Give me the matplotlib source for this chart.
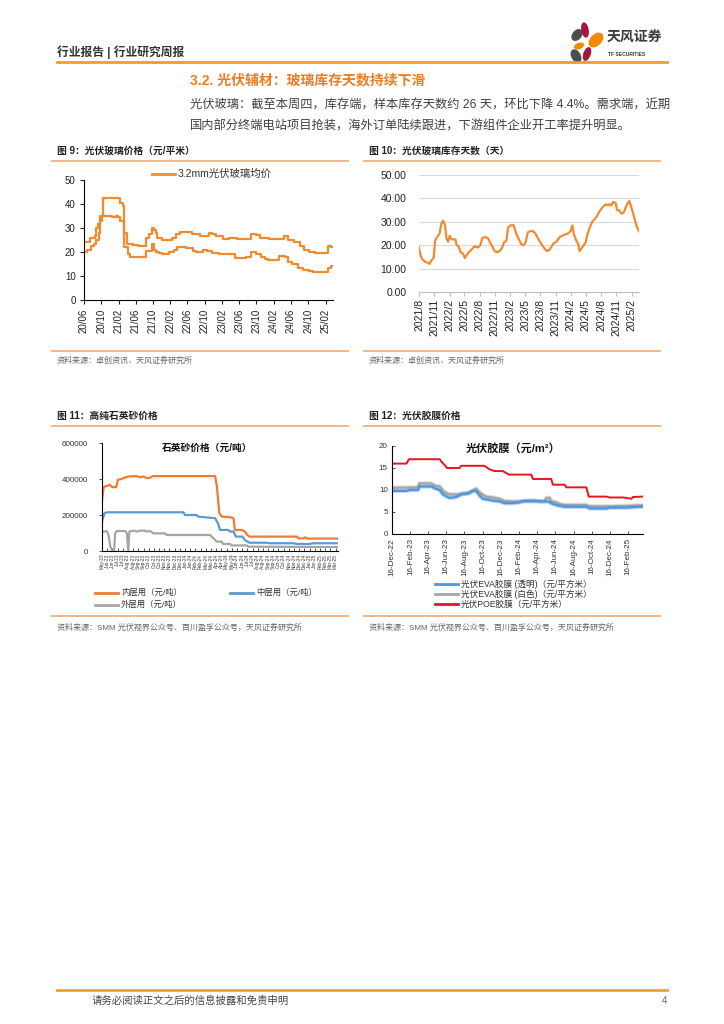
import matplotlib
matplotlib.use('Agg')
import matplotlib.pyplot as plt
import matplotlib.patheffects as pe
from matplotlib.lines import Line2D
from matplotlib.patches import Ellipse
import pandas as pd

plt.rcParams['font.family'] = ['Liberation Sans', 'Noto Sans CJK SC']

# ---- 图9 光伏玻璃价格 (元/平米) ----
glass_hi_dates = ['2020-06-01', '2020-07-10', '2020-08-15', '2020-08-22', '2020-09-05', '2020-09-25', '2020-10-15',
                  '2021-02-10', '2021-02-28', '2021-03-10', '2021-04-01', '2021-05-10', '2021-06-20', '2021-08-15',
                  '2021-09-01', '2021-09-25', '2021-10-10', '2021-10-20', '2021-11-01', '2021-12-01', '2022-02-10',
                  '2022-03-10', '2022-04-10', '2022-07-01', '2022-09-01', '2022-11-01', '2022-11-20', '2022-12-20',
                  '2023-02-10', '2023-03-20', '2023-05-20', '2023-08-25', '2023-10-01', '2023-10-25', '2024-01-01',
                  '2024-04-10', '2024-05-10', '2024-06-20', '2024-08-01', '2024-09-01', '2024-10-10', '2024-11-15',
                  '2025-02-20', '2025-03-10', '2025-03-20']
glass_hi = [24.0, 26.0, 26.5, 30.0, 31.5, 35.0, 42.5, 40.5, 39.0, 28.0, 23.5, 23.0, 22.5, 26.0, 27.5, 30.0, 29.0,
            28.0, 26.0, 25.0, 26.0, 27.5, 28.5, 27.5, 26.5, 28.0, 27.5, 26.5, 25.5, 26.0, 25.5, 27.5, 27.0, 26.0,
            25.5, 26.5, 25.0, 24.0, 22.5, 21.0, 20.0, 19.5, 22.5, 22.0, 22.0]
glass_lo_dates = ['2020-06-01', '2020-06-25', '2020-07-20', '2020-08-10', '2020-08-25', '2020-09-15', '2020-09-25',
                  '2020-10-05', '2020-12-15', '2021-01-10', '2021-01-25', '2021-02-10', '2021-03-08', '2021-04-05',
                  '2021-04-25', '2021-08-15', '2021-09-25', '2021-10-10', '2021-10-25', '2021-11-15', '2021-12-01',
                  '2022-01-20', '2022-02-25', '2022-03-20', '2022-05-20', '2022-07-10', '2022-08-01', '2022-09-20',
                  '2022-10-20', '2022-11-20', '2023-01-10', '2023-05-01', '2023-07-20', '2023-08-25', '2023-09-25',
                  '2023-11-01', '2023-12-01', '2023-12-20', '2024-03-10', '2024-04-20', '2024-05-10', '2024-06-10',
                  '2024-07-20', '2024-08-25', '2024-10-10', '2024-11-05', '2025-02-20', '2025-03-10', '2025-03-20']
glass_lo = [20.0, 21.0, 22.5, 23.5, 25.0, 28.0, 33.0, 35.0, 34.5, 35.0, 34.5, 33.0, 22.0, 19.0, 18.0, 20.5, 23.5,
            21.0, 20.0, 19.5, 19.0, 20.0, 21.0, 22.0, 21.5, 20.5, 20.0, 21.0, 20.5, 19.5, 19.0, 17.5, 18.0, 20.0,
            19.0, 18.0, 17.0, 16.5, 18.5, 18.0, 16.0, 15.0, 13.5, 12.5, 12.0, 11.8, 13.5, 14.0, 14.0]

# ---- 图10 光伏玻璃库存天数 (天) ----
inv_dates = ['2021-08-01', '2021-08-09', '2021-08-21', '2021-09-05', '2021-09-25', '2021-10-04', '2021-10-14',
             '2021-10-28', '2021-11-06', '2021-11-18', '2021-12-03', '2021-12-13', '2021-12-23', '2022-01-05',
             '2022-01-13', '2022-01-23', '2022-02-02', '2022-02-12', '2022-02-22', '2022-03-08', '2022-03-16',
             '2022-03-28', '2022-04-08', '2022-04-22', '2022-05-04', '2022-05-12', '2022-05-28', '2022-06-11',
             '2022-07-01', '2022-07-21', '2022-08-05', '2022-08-17', '2022-08-31', '2022-09-20', '2022-10-04',
             '2022-10-16', '2022-10-30', '2022-11-14', '2022-11-30', '2022-12-15', '2022-12-23', '2023-01-09',
             '2023-01-19', '2023-02-02', '2023-02-22', '2023-03-09', '2023-03-25', '2023-04-08', '2023-04-22',
             '2023-05-04', '2023-05-18', '2023-06-02', '2023-06-18', '2023-07-03', '2023-07-17', '2023-08-07',
             '2023-08-27', '2023-09-10', '2023-09-26', '2023-10-16', '2023-11-06', '2023-11-26', '2023-12-11',
             '2023-12-25', '2024-01-15', '2024-01-30', '2024-02-10', '2024-02-18', '2024-03-01', '2024-03-16',
             '2024-03-24', '2024-04-04', '2024-04-18', '2024-04-30', '2024-05-08', '2024-05-24', '2024-06-09',
             '2024-07-03', '2024-07-23', '2024-08-13', '2024-08-29', '2024-09-12', '2024-09-22', '2024-10-02',
             '2024-10-12', '2024-10-28', '2024-11-05', '2024-11-17', '2024-12-01', '2024-12-15', '2025-01-01',
             '2025-01-17', '2025-01-31', '2025-02-14', '2025-02-26', '2025-03-10', '2025-03-16']
inv_days = [19, 16, 14, 13, 12.5, 12, 13.5, 14.5, 22, 23.5, 25, 29, 30.5, 28.5, 23, 21.5, 24, 22.5, 22.5, 22.5,
            20, 19.5, 17, 16.5, 14.5, 15.5, 17, 18, 19.5, 19, 20, 23, 23.5, 23, 21, 19.5, 17.5, 17, 17.5, 19,
            21, 22, 27.5, 28.5, 28.5, 25, 22.5, 20.5, 20, 21, 25.5, 26, 26, 25, 23, 20.5, 18.5, 17.5, 18, 20.5,
            21.5, 23.5, 24, 24.5, 25, 26, 28.5, 25, 22.5, 20.5, 17.5, 18.5, 20, 21, 24, 27.5, 30, 32, 34.5, 36.5,
            37.5, 37, 37.5, 37, 38.5, 38, 35, 35, 33.5, 34, 37, 39, 36, 32.5, 29, 27, 26]

# ---- 图11 高纯石英砂价格 (元/吨) ----
inner_dates = ['2023-05-19', '2023-05-24', '2023-06-02', '2023-06-10', '2023-06-17', '2023-06-29', '2023-07-04',
               '2023-07-15', '2023-07-25', '2023-08-03', '2023-08-27', '2023-09-06', '2023-09-16', '2023-09-25',
               '2023-10-05', '2023-10-13', '2024-04-10', '2024-04-15', '2024-04-22', '2024-04-29', '2024-05-23',
               '2024-06-02', '2024-06-06', '2024-06-26', '2024-07-05', '2024-07-12', '2024-07-18', '2024-12-02',
               '2024-12-07', '2024-12-21', '2024-12-26', '2024-12-31', '2025-03-31']
inner = [284000, 355000, 362000, 368000, 355000, 355000, 396000, 400000, 409000, 414000, 416000, 409000, 414000,
         405000, 407000, 416000, 416000, 358000, 210000, 191000, 188000, 182000, 117000, 117000, 108000, 89000,
         80000, 80000, 70000, 70000, 76000, 69000, 69000]
middle_dates = ['2023-05-19', '2023-05-26', '2023-06-02', '2024-01-09', '2024-01-14', '2024-02-16', '2024-02-21',
                '2024-04-10', '2024-04-19', '2024-04-24', '2024-05-18', '2024-05-23', '2024-06-02', '2024-06-09',
                '2024-06-28', '2024-07-05', '2024-07-12', '2024-07-18', '2024-09-05', '2024-09-14', '2024-11-22',
                '2024-12-02', '2025-01-08', '2025-01-18', '2025-03-31']
middle = [163000, 210000, 215000, 215000, 200000, 200000, 191000, 182000, 150000, 117000, 117000, 108000, 108000,
          80000, 80000, 61000, 52000, 46000, 46000, 43000, 43000, 39000, 39000, 43000, 43000]
outer_dates = ['2023-05-19', '2023-05-28', '2023-06-02', '2023-06-07', '2023-06-12', '2023-06-17', '2023-06-23',
               '2023-06-26', '2023-07-01', '2023-07-25', '2023-07-30', '2023-08-03', '2023-08-06', '2023-08-18',
               '2023-08-27', '2023-09-06', '2023-09-21', '2023-09-25', '2023-10-05', '2023-10-15', '2023-11-17',
               '2023-11-22', '2024-03-26', '2024-04-05', '2024-04-15', '2024-04-29', '2024-05-03', '2024-05-23',
               '2024-05-27', '2024-07-10', '2024-07-15', '2025-03-31']
outer = [108000, 108000, 111000, 89000, 24000, 0, 0, 98000, 111000, 111000, 98000, 0, 108000, 113000, 108000,
         113000, 113000, 108000, 111000, 98000, 98000, 89000, 89000, 70000, 52000, 52000, 39000, 39000, 31000,
         31000, 24000, 22000]

# ---- 图12 光伏胶膜价格 (元/平方米) ----
clear_dates = ['2022-12-16', '2023-02-02', '2023-02-13', '2023-03-13', '2023-03-18', '2023-04-27', '2023-05-08',
               '2023-05-25', '2023-06-05', '2023-06-18', '2023-06-27', '2023-07-19', '2023-08-05', '2023-08-22',
               '2023-09-13', '2023-09-24', '2023-10-05', '2023-10-17', '2023-11-03', '2023-11-19', '2023-12-12',
               '2023-12-29', '2024-01-26', '2024-02-17', '2024-02-28', '2024-04-02', '2024-04-30', '2024-05-22',
               '2024-05-28', '2024-06-08', '2024-06-19', '2024-06-30', '2024-07-17', '2024-09-28', '2024-10-09',
               '2024-12-04', '2024-12-15', '2025-02-09', '2025-03-26', '2025-04-04']
eva_clear = [9.8, 9.8, 10.0, 10.0, 10.8, 10.8, 10.4, 10.0, 9.0, 8.5, 8.2, 8.4, 9.0, 9.2, 9.8, 9.8, 8.8, 8.0, 7.8,
             7.6, 7.4, 7.0, 7.0, 7.2, 7.5, 7.6, 7.4, 7.4, 7.2, 6.8, 6.6, 6.4, 6.2, 6.2, 5.8, 5.8, 6.0, 6.0, 6.2, 6.2]
white_dates = ['2022-12-16', '2023-03-13', '2023-03-18', '2023-04-27', '2023-05-08', '2023-05-25', '2023-06-10',
               '2023-06-27', '2023-07-31', '2023-08-05', '2023-09-02', '2023-09-13', '2023-09-24', '2023-10-05',
               '2023-10-17', '2023-10-28', '2023-11-19', '2023-12-12', '2023-12-29', '2024-01-20', '2024-03-10',
               '2024-04-02', '2024-05-10', '2024-05-17', '2024-05-28', '2024-06-02', '2024-06-19', '2024-06-30',
               '2024-07-17', '2024-09-28', '2024-10-09', '2024-12-27', '2025-02-09', '2025-03-26', '2025-04-04']
eva_white = [10.5, 10.6, 11.5, 11.5, 11.0, 10.8, 9.5, 9.0, 9.0, 9.2, 9.2, 9.8, 10.3, 9.5, 8.9, 8.5, 8.3, 8.0, 7.5,
             7.4, 7.4, 7.4, 7.4, 8.2, 8.2, 7.4, 7.2, 6.8, 6.6, 6.6, 6.3, 6.3, 6.4, 6.5, 6.5]
poe_dates = ['2022-12-16', '2023-02-02', '2023-02-11', '2023-05-25', '2023-05-30', '2023-06-13', '2023-06-18',
             '2023-07-31', '2023-08-05', '2023-10-22', '2023-11-08', '2023-11-25', '2023-12-23', '2024-01-12',
             '2024-03-27', '2024-04-02', '2024-06-02', '2024-06-08', '2024-07-17', '2024-07-23', '2024-09-28',
             '2024-10-06', '2024-12-04', '2024-12-15', '2025-01-29', '2025-02-09', '2025-02-26', '2025-03-03',
             '2025-04-04']
poe = [16, 16, 17, 17, 16.5, 15.5, 15, 15, 15.5, 15.5, 14.7, 14.3, 14.3, 13.5, 13.5, 12.5, 12.5, 11.2, 11.2, 10.6,
       10.6, 8.5, 8.5, 8.3, 8.3, 8.2, 8.0, 8.4, 8.5]

ORANGE = '#F28B30'
LINE_ORANGE = '#F5B07C'
TXT = '#333333'
W, H = 724, 1024

fig = plt.figure(figsize=(W / 100, H / 100), dpi=100)


def px_axes(l, t, r, b):
    return fig.add_axes([l / W, 1 - b / H, (r - l) / W, (b - t) / H])


def ftext(x, y, s, **kw):
    kw.setdefault('va', 'center')
    kw.setdefault('color', TXT)
    fig.text(x / W, 1 - y / H, s, **kw)


def hline(x0, x1, y, color, lw):
    fig.add_artist(Line2D([x0 / W, x1 / W], [1 - y / H, 1 - y / H], color=color, lw=lw,
                          transform=fig.transFigure))


def legend_key(x, y, color, label, size, length=23):
    hline(x, x + length, y, color, 2)
    ftext(x + length + 3, y, label, fontsize=size)


# ---------------- page header ----------------
ftext(57, 52, '行业报告 | 行业研究周报', fontsize=8.5, fontweight='bold')
hline(57, 667, 62, '#F29B30', 2)
logo = px_axes(565, 18, 610, 66)
logo.set_xlim(565, 610)
logo.set_ylim(66, 18)
logo.axis('off')
for cx, cy, w, h, ang, c in [(577, 35, 8, 12, 40, '#4D4D4D'), (585, 30, 6, 14, -10, '#A3173A'),
                             (596, 40, 10, 16, 45, '#F08A00'), (579, 46, 5, 9, 70, '#F08A00'),
                             (587, 54, 6, 13, 20, '#A3173A'), (576, 56, 8, 13, -30, '#4D4D4D')]:
    logo.add_patch(Ellipse((cx, cy), w, h, angle=ang, color=c))
ftext(607, 38, '天风证券', fontsize=10, fontweight='bold', color='#3A3A3A')
ftext(608, 55, 'TF SECURITIES', fontsize=3.6, fontweight='bold', color='#3A3A3A')

ftext(190, 80, '3.2. 光伏辅材：玻璃库存天数持续下滑', fontsize=10, fontweight='bold', color='#EC7D22')
ftext(190, 106, '光伏玻璃：截至本周四，库存端，样本库存天数约 26 天，环比下降 4.4%。需求端，近期',
      fontsize=8.8, color='#404040')
ftext(190, 126, '国内部分终端电站项目抢装，海外订单陆续跟进，下游组件企业开工率提升明显。',
      fontsize=8.8, color='#404040')

# section frames
for x0, x1, title, src, yt, yl, yb, ys in [
        (57, 348, '图 9：光伏玻璃价格（元/平米）', '资料来源：卓创资讯，天风证券研究所', 151, 161, 351, 361),
        (369, 660, '图 10：光伏玻璃库存天数（天）', '资料来源：卓创资讯，天风证券研究所', 151, 161, 351, 361),
        (57, 348, '图 11：高纯石英砂价格', '资料来源：SMM 光伏视界公众号、百川盈孚公众号，天风证券研究所', 416, 426, 616, 628),
        (369, 660, '图 12：光伏胶膜价格', '资料来源：SMM 光伏视界公众号、百川盈孚公众号，天风证券研究所', 416, 426, 616, 628)]:
    ftext(x0, yt, title, fontsize=7, fontweight='bold', color='#222222')
    hline(x0 - 5, x1, yl, LINE_ORANGE, 1.3)
    hline(x0 - 5, x1, yb, LINE_ORANGE, 1.3)
    ftext(x0, ys, src, fontsize=5.8, color='#666666')

# ---------------- 图9 ----------------
ax9 = px_axes(84, 180, 333, 300)
ax9.step(pd.to_datetime(glass_hi_dates), glass_hi, where='post', color=ORANGE, lw=1.6)
ax9.step(pd.to_datetime(glass_lo_dates), glass_lo, where='post', color=ORANGE, lw=1.6)
ax9.set_ylim(0, 50)
ax9.set_yticks(range(0, 51, 10))
ax9.set_xlim(pd.Timestamp('2020-06-01'), pd.Timestamp('2025-03-25'))
t9 = pd.date_range('2020-06-01', '2025-02-01', freq='4MS')
ax9.set_xticks(t9)
ax9.set_xticklabels([d.strftime('%y/%m') for d in t9], rotation=90)
for s in ('top', 'right'):
    ax9.spines[s].set_visible(False)
for s in ('left', 'bottom'):
    ax9.spines[s].set_linewidth(0.8)
ax9.tick_params(labelsize=7, length=3, width=0.8, pad=3, colors='#222222')
legend_key(152, 174, ORANGE, '3.2mm光伏玻璃均价', 7.5)

# ---------------- 图10 ----------------
ax10 = px_axes(419, 175, 639, 292)
ax10.plot(pd.to_datetime(inv_dates), inv_days, color=ORANGE, lw=1.6)
ax10.set_ylim(0, 50)
ax10.set_yticks(range(0, 51, 10))
ax10.set_yticklabels([f'{v:.2f}' for v in range(0, 51, 10)])
ax10.set_xlim(pd.Timestamp('2021-08-01'), pd.Timestamp('2025-03-17'))
t10 = pd.date_range('2021-08-01', '2025-02-01', freq='3MS')
ax10.set_xticks(t10)
ax10.set_xticklabels([f'{d.year}/{d.month}' for d in t10], rotation=90)
ax10.grid(axis='y', color='#D9D9D9', lw=0.8)
ax10.set_axisbelow(True)
for s in ('top', 'right', 'left'):
    ax10.spines[s].set_visible(False)
ax10.spines['bottom'].set_color('#BFBFBF')
ax10.tick_params(axis='y', length=0, pad=9, labelsize=7.5, colors='#222222')
ax10.tick_params(axis='x', length=3, color='#BFBFBF', labelsize=7.5, labelcolor='#222222', pad=2)

# ---------------- 图11 ----------------
ax11 = px_axes(102, 443, 338, 551)
c_in, c_mid, c_out = '#ED7D31', '#5B9BD5', '#A5A5A5'
ax11.plot(pd.to_datetime(outer_dates), outer, color=c_out, lw=1.6)
ax11.plot(pd.to_datetime(middle_dates), middle, color=c_mid, lw=1.6)
ax11.plot(pd.to_datetime(inner_dates), inner, color=c_in, lw=1.6)
ax11.set_ylim(0, 600000)
ax11.set_yticks([0, 200000, 400000, 600000])
ax11.set_xlim(pd.Timestamp('2023-05-19'), pd.Timestamp('2025-03-31'))
t11 = pd.date_range('2023-05-19', '2025-03-31', freq='15D')
ax11.set_xticks(t11)
# 46 labels in ~236 px: small enough to sit side by side
ax11.set_xticklabels([d.strftime('%b-%y') for d in t11], rotation=90)
for s in ('top', 'right'):
    ax11.spines[s].set_visible(False)
for s in ('left', 'bottom'):
    ax11.spines[s].set_linewidth(0.8)
ax11.tick_params(axis='y', labelsize=5.8, length=2, width=0.6, pad=8, colors='#333333')
ax11.tick_params(axis='x', labelsize=3.3, length=2.5, width=0.6, direction='in', pad=2, colors='#333333')
ftext(207, 448, '石英砂价格（元/吨）', fontsize=7, fontweight='bold', ha='center', color='#111111')
legend_key(95, 593, c_in, '内层用（元/吨）', 6)
legend_key(230, 593, c_mid, '中层用（元/吨）', 6)
legend_key(95, 605, c_out, '外层用（元/吨）', 6)

# ---------------- 图12 ----------------
ax12 = px_axes(392, 446, 643, 534)
c_clear, c_white, c_poe = '#4F96DA', '#A6A6A6', '#E8141B'
glow = lambda c: [pe.Stroke(linewidth=3.2, foreground=c, alpha=0.35), pe.Normal()]
ax12.plot(pd.to_datetime(white_dates), eva_white, color=c_white, lw=1.6, path_effects=glow(c_white))
ax12.plot(pd.to_datetime(clear_dates), eva_clear, color=c_clear, lw=1.6, path_effects=glow(c_clear))
ax12.plot(pd.to_datetime(poe_dates), poe, color=c_poe, lw=1.4)
ax12.set_ylim(0, 20)
ax12.set_yticks(range(0, 21, 5))
ax12.set_xlim(pd.Timestamp('2022-12-16'), pd.Timestamp('2025-04-06'))
t12 = pd.date_range('2022-12-01', '2025-02-01', freq='2MS') + pd.Timedelta(days=15)
ax12.set_xticks(t12)
ax12.set_xticklabels([f'{d.day}-' + d.strftime('%b-%y') for d in t12], rotation=90)
for s in ('top', 'right'):
    ax12.spines[s].set_visible(False)
for s in ('left', 'bottom'):
    ax12.spines[s].set_linewidth(0.8)
ax12.tick_params(labelsize=5.8, length=2.5, width=0.6, direction='in', pad=3, colors='#333333')
ftext(513, 448, '光伏胶膜（元/m²）', fontsize=8, fontweight='bold', ha='center', color='#111111')
legend_key(435, 584, c_clear, '光伏EVA胶膜 (透明)（元/平方米）', 6.2)
legend_key(435, 594, c_white, '光伏EVA胶膜 (白色)（元/平方米）', 6.2)
legend_key(435, 604, c_poe, '光伏POE胶膜（元/平方米）', 6.2)

# ---------------- footer ----------------
hline(57, 667, 990, '#F0A030', 2)
ftext(92, 1001, '请务必阅读正文之后的信息披露和免责申明', fontsize=7.5, color='#444444')
ftext(662, 1001, '4', fontsize=7, color='#666666')

fig.savefig('out.png', dpi=100)
